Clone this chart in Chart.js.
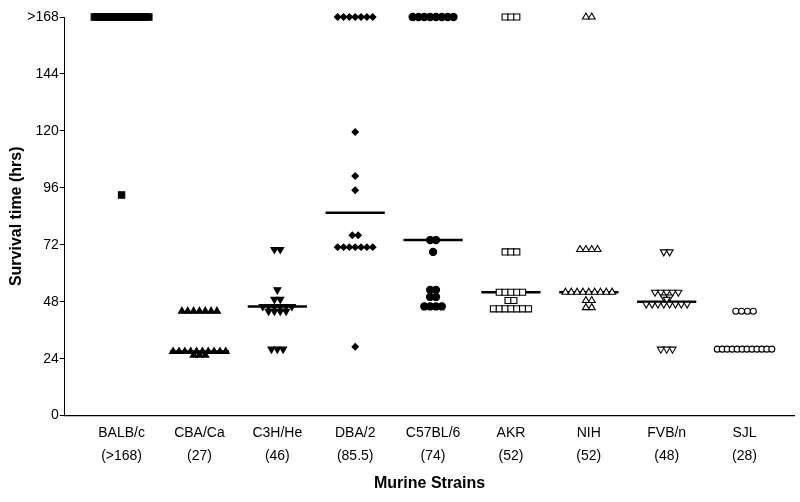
<!DOCTYPE html>
<html lang="en">
<head>
<meta charset="UTF-8" />
<title>Survival time by murine strain</title>
<script src="https://cdn.jsdelivr.net/npm/chart.js"></script>
<style>
  body { margin: 0; background: #fff; }
  #wrap { width: 800px; height: 502px; }
</style>
</head>
<body>
<div id="wrap"><canvas id="survivalChart"></canvas></div>
<script>
  // categories and their median labels
  const strains = ["BALB/c", "CBA/Ca", "C3H/He", "DBA/2", "C57BL/6", "AKR", "NIH", "FVB/n", "SJL"];
  const medianLabels = ["(>168)", "(27)", "(46)", "(85.5)", "(74)", "(52)", "(52)", "(48)", "(28)"];
  const medians = [168, 27, 46, 85.5, 74, 52, 52, 48, 28];
  const yTicks = [0, 24, 48, 72, 96, 120, 144, 168];

  // survival time per mouse (hrs), 168 = survived past 168
  const balbc = [168, 168, 168, 168, 168, 168, 168, 168, 168, 168, 168, 168, 168, 168, 168, 168, 168, 168, 168, 168, 93];
  const cbaCa = [44, 44, 44, 44, 44, 44, 44, 27, 27, 27, 27, 27, 27, 27, 27, 27, 27, 25.5, 25.5, 25.5];
  const c3hHe = [70, 70, 53, 49, 49, 46, 46, 46, 46, 46, 46, 44, 44, 44, 44, 28, 28, 28];
  const dba2 = [168, 168, 168, 168, 168, 168, 168, 119.5, 101, 95, 76, 76, 71, 71, 71, 71, 71, 71, 71, 29];
  const c57bl6 = [168, 168, 168, 168, 168, 168, 168, 168, 74, 74, 69, 53, 53, 50, 50, 46, 46, 46, 46];
  const akr = [168, 168, 168, 69, 69, 69, 52, 52, 52, 52, 52, 48.5, 48.5, 45, 45, 45, 45, 45, 45, 45];
  const nih = [168, 168, 70, 70, 70, 70, 52, 52, 52, 52, 52, 52, 52, 52, 52, 48.5, 48.5, 45.5, 45.5];
  const fvbN = [69, 69, 52, 52, 52, 52, 52, 50, 50, 49, 47, 47, 47, 47, 47, 47, 47, 47, 28, 28, 28];
  const sjl = [44, 44, 44, 44, 28, 28, 28, 28, 28, 28, 28, 28, 28, 28, 28, 28];

  const groups = [balbc, cbaCa, c3hHe, dba2, c57bl6, akr, nih, fvbN, sjl];

  // marker look for each strain
  const markers = [
    { style: "rect", r: 4.5, fill: "#000", rot: 0 },
    { style: "triangle", r: 4, fill: "#000", rot: 0 },
    { style: "triangle", r: 4, fill: "#000", rot: 180 },
    { style: "rectRot", r: 3.2, fill: "#000", rot: 0 },
    { style: "circle", r: 3.6, fill: "#000", rot: 0 },
    { style: "rect", r: 4.3, fill: "#fff", rot: 0 },
    { style: "triangle", r: 4, fill: "#fff", rot: 0 },
    { style: "triangle", r: 4, fill: "#fff", rot: 180 },
    { style: "circle", r: 3, fill: "#fff", rot: 0 }
  ];

  // spread tied values sideways like a dot plot
  function spread(values, cat) {
    const counts = {}, seen = {};
    values.forEach(v => counts[v] = (counts[v] || 0) + 1);
    return values.map(v => {
      const n = counts[v];
      seen[v] = seen[v] === undefined ? 0 : seen[v] + 1;
      const step = Math.min(0.075, 0.7 / Math.max(n - 1, 1));
      return { x: cat + (seen[v] - (n - 1) / 2) * step, y: v };
    });
  }

  const datasets = [];
  groups.forEach((vals, i) => {
    const m = markers[i];
    datasets.push({
      label: strains[i],
      data: spread(vals, i + 1),
      pointStyle: m.style,
      pointRadius: m.r,
      pointRotation: m.rot,
      pointBackgroundColor: m.fill,
      pointBorderColor: "#000",
      pointBorderWidth: 1.1,
      showLine: false,
      clip: false,
      order: 1
    });
    datasets.push({
      label: strains[i] + " median",
      data: [{ x: i + 1 - 0.38, y: medians[i] }, { x: i + 1 + 0.38, y: medians[i] }],
      showLine: true,
      borderColor: "#000",
      borderWidth: 2.4,
      pointRadius: 0,
      clip: false,
      order: 2
    });
  });

  const font = "'Liberation Sans', Arial, sans-serif";

  new Chart(document.getElementById("survivalChart"), {
    type: "scatter",
    data: { datasets: datasets },
    options: {
      responsive: true,
      maintainAspectRatio: false,
      animation: false,
      layout: { padding: { top: 17, right: 0, left: 7, bottom: 9 } },
      plugins: { legend: { display: false }, tooltip: { enabled: false } },
      scales: {
        x: {
          type: "linear",
          min: 0.27,
          max: 9.64,
          afterBuildTicks: axis => { axis.ticks = strains.map((s, i) => ({ value: i + 1 })); },
          ticks: {
            autoSkip: false,
            maxRotation: 0,
            padding: 6,
            color: "#000",
            font: { family: font, size: 14, lineHeight: 1.65 },
            callback: v => [strains[v - 1], medianLabels[v - 1]]
          },
          grid: { display: true, drawOnChartArea: false, drawTicks: false },
          border: { color: "#000", width: 1.2 },
          title: {
            display: true,
            text: "Murine Strains",
            color: "#000",
            font: { family: font, size: 16, weight: "bold" },
            padding: { top: 0, bottom: 0 }
          }
        },
        y: {
          min: 0,
          max: 168,
          afterBuildTicks: axis => { axis.ticks = yTicks.map(v => ({ value: v })); },
          ticks: {
            padding: 1,
            color: "#000",
            font: { family: font, size: 14 },
            callback: v => v === 168 ? ">168" : v
          },
          grid: { drawOnChartArea: false, tickLength: 5, tickColor: "#000" },
          border: { color: "#000", width: 1 },
          title: {
            display: true,
            text: "Survival time (hrs)",
            color: "#000",
            font: { family: font, size: 16, weight: "bold" },
            padding: { top: 0, bottom: 0 }
          }
        }
      }
    }
  });
</script>
</body>
</html>
